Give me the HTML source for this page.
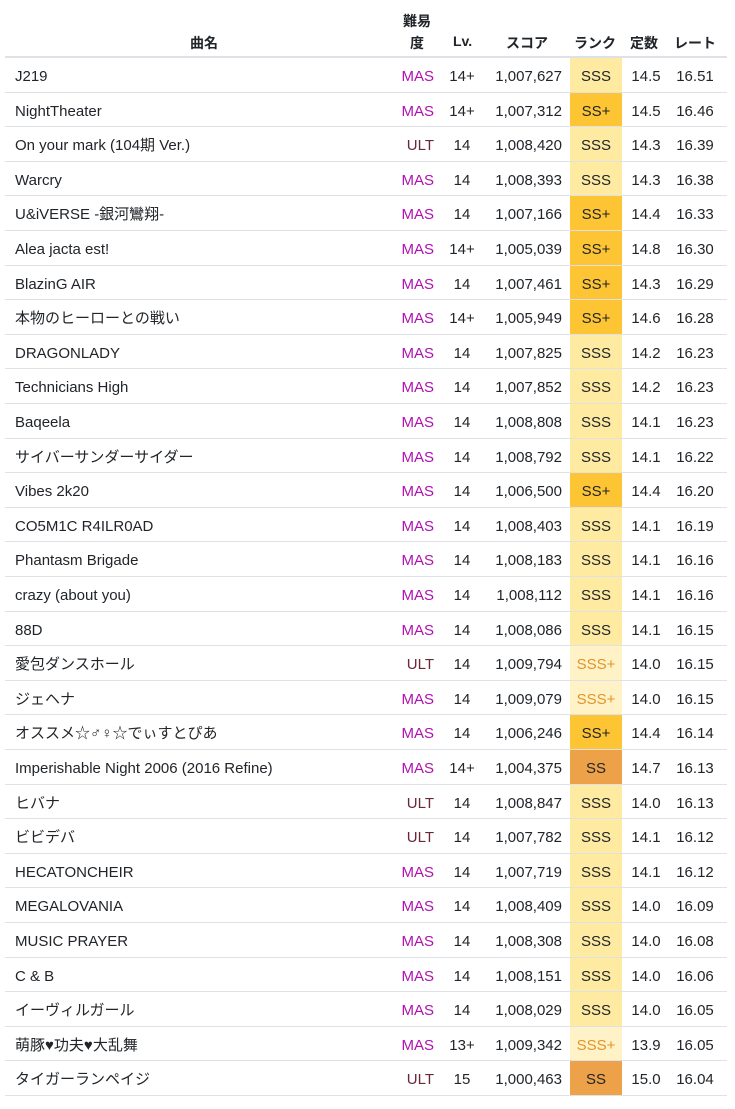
<!DOCTYPE html>
<html><head><meta charset="utf-8"><style>
body{margin:0;background:#fff;width:735px;height:1109px;overflow:hidden;font-family:"Liberation Sans","Noto Sans CJK JP",sans-serif;font-size:15px;color:#212529}
.h{position:absolute;font-weight:bold;font-size:14px}
.r{position:absolute;left:5px;width:722px;height:34.6px;border-bottom:1px solid #dee2e6;box-sizing:border-box}
.r div{position:absolute;top:0;height:100%;line-height:37px;white-space:nowrap}
.n{left:10px}
.d{right:293px;text-align:right}
.l{left:437px;width:40px;text-align:center}
.s{right:165px;text-align:right}
.k{left:565px;width:52px;text-align:center}
.c{left:620px;width:42px;text-align:center}
.t{left:666px;width:48px;text-align:center}
.M{color:#b010b0}.U{color:#6b2737}
.SSS{background:#feeaa0}.SSP{background:#fdc433}.SS{background:#eda24a}.SSSP{background:#fff2c6;color:#e0952a}
</style></head><body>
<div class="h" style="left:190px;top:33px">曲名</div>
<div class="h" style="left:403px;top:11px">難易</div>
<div class="h" style="left:410px;top:33px">度</div>
<div class="h" style="left:453px;top:33px">Lv.</div>
<div class="h" style="left:506px;top:33px">スコア</div>
<div class="h" style="left:574px;top:33px">ランク</div>
<div class="h" style="left:630px;top:33px">定数</div>
<div class="h" style="left:674px;top:33px">レート</div>
<div style="position:absolute;left:5px;top:56px;width:722px;height:2px;background:#dee2e6"></div>
<div id="t"></div>
<script>
const D=[
["J219","M","14+","1,007,627","SSS","14.5","16.51"],
["NightTheater","M","14+","1,007,312","SS+","14.5","16.46"],
["On your mark (104期 Ver.)","U","14","1,008,420","SSS","14.3","16.39"],
["Warcry","M","14","1,008,393","SSS","14.3","16.38"],
["U&amp;iVERSE -銀河鸞翔-","M","14","1,007,166","SS+","14.4","16.33"],
["Alea jacta est!","M","14+","1,005,039","SS+","14.8","16.30"],
["BlazinG AIR","M","14","1,007,461","SS+","14.3","16.29"],
["本物のヒーローとの戦い","M","14+","1,005,949","SS+","14.6","16.28"],
["DRAGONLADY","M","14","1,007,825","SSS","14.2","16.23"],
["Technicians High","M","14","1,007,852","SSS","14.2","16.23"],
["Baqeela","M","14","1,008,808","SSS","14.1","16.23"],
["サイバーサンダーサイダー","M","14","1,008,792","SSS","14.1","16.22"],
["Vibes 2k20","M","14","1,006,500","SS+","14.4","16.20"],
["CO5M1C R4ILR0AD","M","14","1,008,403","SSS","14.1","16.19"],
["Phantasm Brigade","M","14","1,008,183","SSS","14.1","16.16"],
["crazy (about you)","M","14","1,008,112","SSS","14.1","16.16"],
["88D","M","14","1,008,086","SSS","14.1","16.15"],
["愛包ダンスホール","U","14","1,009,794","SSS+","14.0","16.15"],
["ジェヘナ","M","14","1,009,079","SSS+","14.0","16.15"],
["オススメ☆♂♀☆でぃすとぴあ","M","14","1,006,246","SS+","14.4","16.14"],
["Imperishable Night 2006 (2016 Refine)","M","14+","1,004,375","SS","14.7","16.13"],
["ヒバナ","U","14","1,008,847","SSS","14.0","16.13"],
["ビビデバ","U","14","1,007,782","SSS","14.1","16.12"],
["HECATONCHEIR","M","14","1,007,719","SSS","14.1","16.12"],
["MEGALOVANIA","M","14","1,008,409","SSS","14.0","16.09"],
["MUSIC PRAYER","M","14","1,008,308","SSS","14.0","16.08"],
["C &amp; B","M","14","1,008,151","SSS","14.0","16.06"],
["イーヴィルガール","M","14","1,008,029","SSS","14.0","16.05"],
["萌豚♥功夫♥大乱舞","M","13+","1,009,342","SSS+","13.9","16.05"],
["タイガーランペイジ","U","15","1,000,463","SS","15.0","16.04"]];
let h="";
D.forEach((r,i)=>{const cls={"SSS":"SSS","SS+":"SSP","SS":"SS","SSS+":"SSSP"}[r[4]];
h+=`<div class="r" style="top:${58+i*34.6}px"><div class="n">${r[0]}</div><div class="d ${r[1]}">${r[1]=="M"?"MAS":"ULT"}</div><div class="l">${r[2]}</div><div class="s">${r[3]}</div><div class="k ${cls}">${r[4]}</div><div class="c">${r[5]}</div><div class="t">${r[6]}</div></div>`;});
document.getElementById("t").innerHTML=h;
</script>
</body></html>
